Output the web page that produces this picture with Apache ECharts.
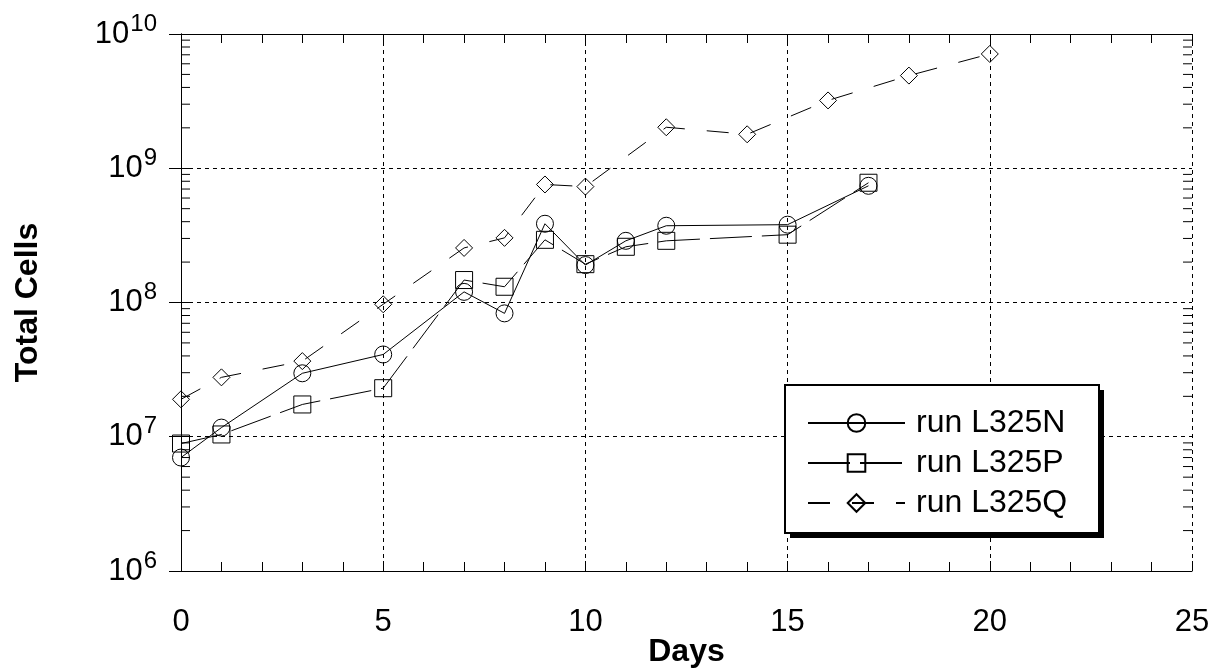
<!DOCTYPE html>
<html>
<head>
<meta charset="utf-8">
<script src="https://cdn.jsdelivr.net/npm/echarts@6/dist/echarts.min.js"></script>
<style>
html,body{margin:0;padding:0;background:#fff;}
#chart{width:1227px;height:669px;}
</style>
</head>
<body>
<div id="chart"></div>
<script>
// ---- data ----
const daysN = [0, 1, 3, 5, 7, 8, 9, 10, 11, 12, 15, 17];
const cellsN = [7.0e6, 1.17e7, 2.97e7, 4.1e7, 1.2e8, 8.3e7, 3.86e8, 1.9e8, 2.88e8, 3.73e8, 3.8e8, 7.4e8];
const daysP = [0, 1, 3, 5, 7, 8, 9, 10, 11, 12, 15, 17];
const cellsP = [8.9e6, 1.04e7, 1.74e7, 2.3e7, 1.47e8, 1.31e8, 2.93e8, 1.93e8, 2.6e8, 2.88e8, 3.2e8, 7.8e8];
const daysQ = [0, 1, 3, 5, 7, 8, 9, 10, 12, 14, 16, 18, 20];
const cellsQ = [1.9e7, 2.77e7, 3.66e7, 9.7e7, 2.55e8, 3.03e8, 7.57e8, 7.3e8, 2.02e9, 1.79e9, 3.2e9, 4.9e9, 7.1e9];
const seriesNames = ['run L325N', 'run L325P', 'run L325Q'];
const xTicks = [0, 5, 10, 15, 20, 25];
const yDecades = [6, 7, 8, 9, 10];

// minor tick values for the log axis (2..9 x 10^k)
const yMinorTicks = [];
for (let k = yDecades[0]; k < yDecades[yDecades.length - 1]; k++) {
  for (let m = 2; m <= 9; m++) yMinorTicks.push(m * Math.pow(10, k));
}

const FONT = '"Liberation Sans", Arial, Helvetica, sans-serif';
const xMin = xTicks[0], xMax = xTicks[xTicks.length - 1];
const yMin = Math.pow(10, yDecades[0]), yMax = Math.pow(10, yDecades[yDecades.length - 1]);

function pairs(xs, ys) { return xs.map((x, i) => [x, ys[i]]); }

const chart = echarts.init(document.getElementById('chart'), null, {renderer: 'canvas'});

const markerStyle = {color: 'rgba(255,255,255,0)', borderColor: '#000', borderWidth: 1};

// legend frame (box with solid drop shadow)
const LB = {x: 785, y: 385, w: 314, h: 148, sh: 5};

const option = {
  backgroundColor: '#fff',
  animation: false,
  grid: {left: 181, right: 35, top: 34, bottom: 98, containLabel: false, outerBoundsMode: 'none'},
  graphic: [
    {type: 'rect', z: 15, silent: true,
     shape: {x: LB.x + LB.sh, y: LB.y + LB.sh, width: LB.w, height: LB.h},
     style: {fill: '#000', stroke: null}},
    {type: 'rect', z: 16, silent: true,
     shape: {x: LB.x, y: LB.y, width: LB.w, height: LB.h},
     style: {fill: '#fff', stroke: '#000', lineWidth: 2}}
  ],
  xAxis: [{
    type: 'value', min: xMin, max: xMax, interval: 5,
    name: 'Days', nameLocation: 'middle', nameGap: 65, nameMoveOverlap: false,
    nameTextStyle: {fontFamily: FONT, fontWeight: 'bold', fontSize: 32, color: '#000'},
    axisLine: {show: true, lineStyle: {color: '#000', width: 1}},
    axisTick: {show: true, inside: true, length: 10, lineStyle: {color: '#000'}},
    minorTick: {show: true, splitNumber: 5, length: 9, lineStyle: {color: '#000'}},
    axisLabel: {fontFamily: FONT, fontSize: 31, color: '#000', margin: 36},
    splitLine: {show: true, lineStyle: {color: '#000', type: [4, 4], width: 1}}
  }, {
    type: 'value', min: xMin, max: xMax, interval: 5, position: 'top',
    axisLine: {show: true, lineStyle: {color: '#000', width: 1}},
    axisTick: {show: true, inside: true, length: 10, lineStyle: {color: '#000'}},
    minorTick: {show: true, splitNumber: 5, length: 9, lineStyle: {color: '#000'}},
    axisLabel: {show: false},
    splitLine: {show: false}
  }],
  yAxis: [{
    type: 'log', logBase: 10, min: yMin, max: yMax,
    name: 'Total Cells', nameLocation: 'middle', nameGap: 137, nameRotate: 90, nameMoveOverlap: false,
    nameTextStyle: {fontFamily: FONT, fontWeight: 'bold', fontSize: 32, color: '#000'},
    axisLine: {show: true, lineStyle: {color: '#000', width: 1}},
    axisTick: {show: true, inside: true, length: 12, lineStyle: {color: '#000'}},
    axisLabel: {
      margin: 24,
      formatter: function (v) {
        return '{m|10}{e|' + Math.round(Math.log10(v)) + '}';
      },
      rich: {
        m: {fontFamily: FONT, fontSize: 31, color: '#000'},
        e: {fontFamily: FONT, fontSize: 24, color: '#000', padding: [0, 0, 20, 1]}
      }
    },
    splitLine: {show: true, lineStyle: {color: '#000', type: [4, 4], width: 1}}
  }, {
    type: 'log', logBase: 10, min: yMin, max: yMax, position: 'right',
    axisLine: {show: true, lineStyle: {color: '#000', width: 1}},
    axisTick: {show: true, inside: true, length: 12, lineStyle: {color: '#000'}},
    axisLabel: {show: false},
    splitLine: {show: false}
  }],
  legend: {
    orient: 'vertical',
    left: 807, top: 407,
    padding: 0,
    itemGap: 8,
    itemWidth: 97, itemHeight: 22,
    z: 20,
    backgroundColor: 'transparent',
    borderWidth: 0,
    textStyle: {fontFamily: FONT, fontSize: 32, color: '#000', padding: [0, 0, 0, 6]},
    data: seriesNames
  },
  series: [{
    name: seriesNames[0], type: 'line', xAxisIndex: 0, yAxisIndex: 0,
    data: pairs(daysN, cellsN),
    symbol: 'circle', symbolSize: 17,
    lineStyle: {color: '#000', width: 1, type: 'solid'},
    itemStyle: markerStyle,
    z: 5
  }, {
    name: seriesNames[1], type: 'line', xAxisIndex: 0, yAxisIndex: 0,
    data: pairs(daysP, cellsP),
    symbol: 'rect', symbolSize: 17,
    lineStyle: {color: '#000', width: 1, type: [42, 10]},
    itemStyle: markerStyle,
    z: 5
  }, {
    name: seriesNames[2], type: 'line', xAxisIndex: 0, yAxisIndex: 0,
    data: pairs(daysQ, cellsQ),
    symbol: 'diamond', symbolSize: 17,
    lineStyle: {color: '#000', width: 1, type: [22, 22]},
    itemStyle: markerStyle,
    z: 5
  }, {
    // log-axis minor ticks on left and right edges
    type: 'custom', xAxisIndex: 0, yAxisIndex: 0, silent: true, z: 3,
    data: yMinorTicks.map(v => [v]),
    renderItem: function (params, api) {
      const v = api.value(0);
      const pL = api.coord([xMin, v]);
      const pR = api.coord([xMax, v]);
      const len = 9;
      return {
        type: 'group',
        children: [
          {type: 'line', shape: {x1: pL[0], y1: pL[1], x2: pL[0] + len, y2: pL[1]}, style: {stroke: '#000', lineWidth: 1}},
          {type: 'line', shape: {x1: pR[0], y1: pR[1], x2: pR[0] - len, y2: pR[1]}, style: {stroke: '#000', lineWidth: 1}}
        ]
      };
    },
    encode: {y: 0}
  }]
};
chart.setOption(option);
</script>
</body>
</html>
